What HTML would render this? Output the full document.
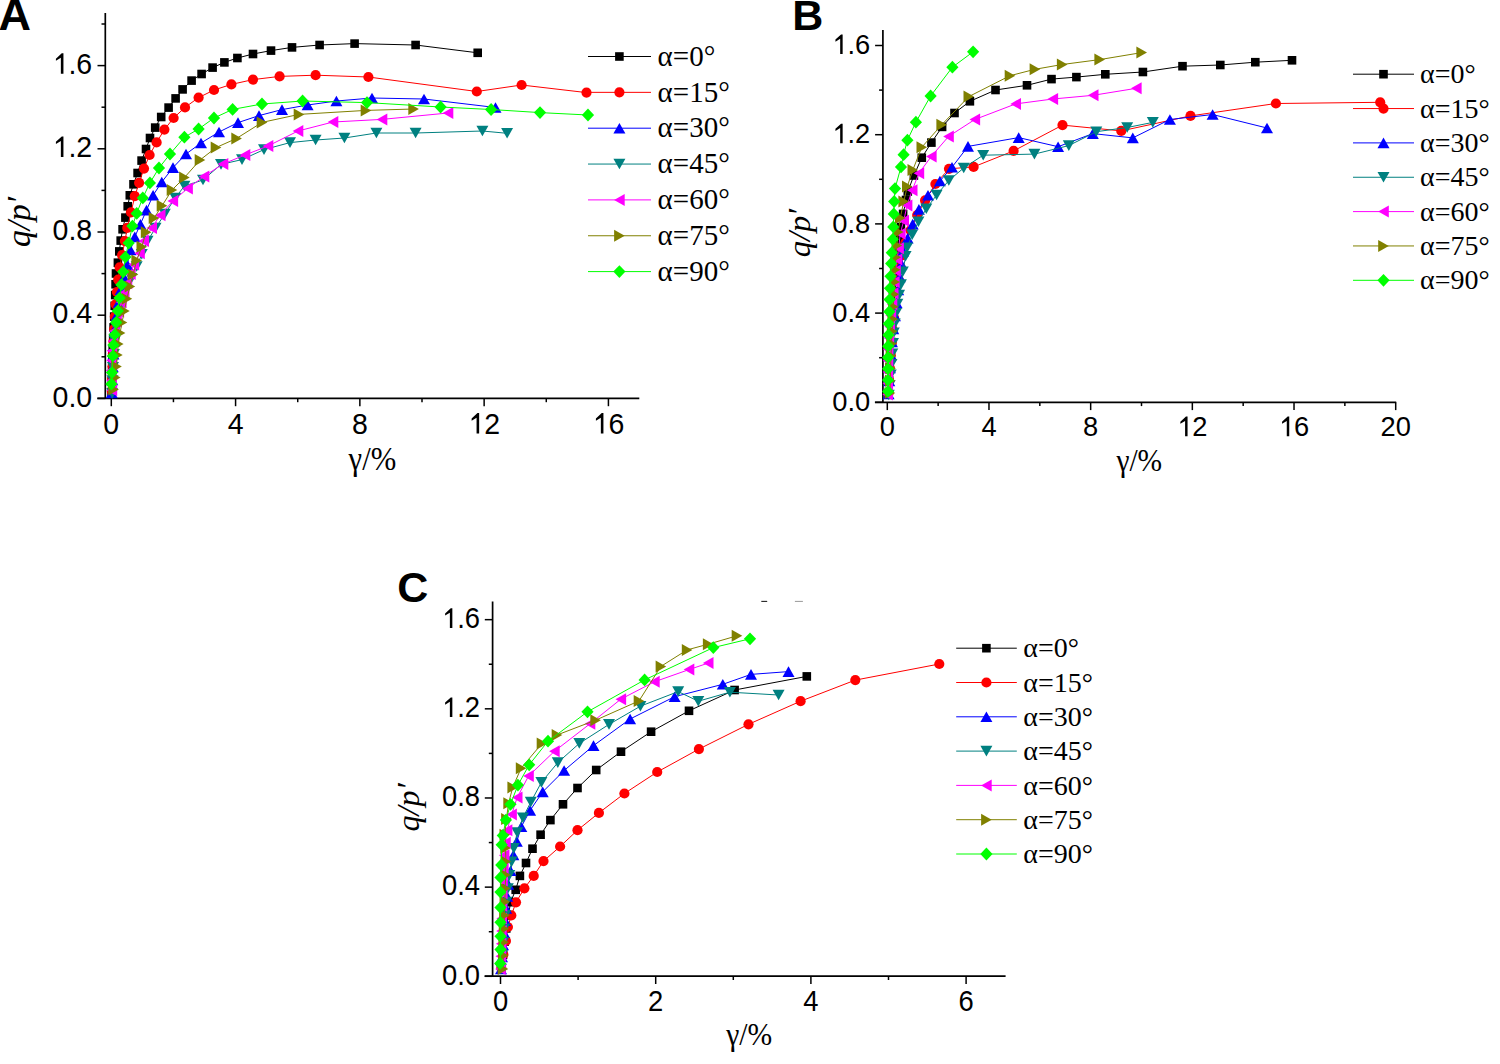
<!DOCTYPE html>
<html><head><meta charset="utf-8"><style>
html,body{margin:0;padding:0;background:#fff;width:1500px;height:1064px;overflow:hidden}
svg{display:block}
.t{font-family:"Liberation Sans",sans-serif;fill:#000}
.s{font-family:"Liberation Serif",serif;fill:#000}
.q{font-family:"Liberation Serif",serif;font-style:italic;fill:#000}
.L{font-family:"Liberation Sans",sans-serif;font-weight:bold;font-size:43px;fill:#000}
</style></head><body>
<svg width="1500" height="1064" viewBox="0 0 1500 1064">
<rect width="1500" height="1064" fill="#fff"/>
<line x1="105.3" y1="13" x2="105.3" y2="398.4" stroke="#000" stroke-width="1.7"/>
<line x1="97.3" y1="398.4" x2="639.3" y2="398.4" stroke="#000" stroke-width="1.7"/>
<line x1="111.3" y1="398.4" x2="111.3" y2="406.2" stroke="#000" stroke-width="1.5"/>
<line x1="173.44" y1="398.4" x2="173.44" y2="402.2" stroke="#000" stroke-width="1.5"/>
<line x1="235.58" y1="398.4" x2="235.58" y2="406.2" stroke="#000" stroke-width="1.5"/>
<line x1="297.72" y1="398.4" x2="297.72" y2="402.2" stroke="#000" stroke-width="1.5"/>
<line x1="359.86" y1="398.4" x2="359.86" y2="406.2" stroke="#000" stroke-width="1.5"/>
<line x1="422" y1="398.4" x2="422" y2="402.2" stroke="#000" stroke-width="1.5"/>
<line x1="484.14" y1="398.4" x2="484.14" y2="406.2" stroke="#000" stroke-width="1.5"/>
<line x1="546.28" y1="398.4" x2="546.28" y2="402.2" stroke="#000" stroke-width="1.5"/>
<line x1="608.42" y1="398.4" x2="608.42" y2="406.2" stroke="#000" stroke-width="1.5"/>
<line x1="97.5" y1="398.4" x2="105.3" y2="398.4" stroke="#000" stroke-width="1.5"/>
<line x1="101.5" y1="356.8" x2="105.3" y2="356.8" stroke="#000" stroke-width="1.5"/>
<line x1="97.5" y1="315.2" x2="105.3" y2="315.2" stroke="#000" stroke-width="1.5"/>
<line x1="101.5" y1="273.6" x2="105.3" y2="273.6" stroke="#000" stroke-width="1.5"/>
<line x1="97.5" y1="232" x2="105.3" y2="232" stroke="#000" stroke-width="1.5"/>
<line x1="101.5" y1="190.4" x2="105.3" y2="190.4" stroke="#000" stroke-width="1.5"/>
<line x1="97.5" y1="148.8" x2="105.3" y2="148.8" stroke="#000" stroke-width="1.5"/>
<line x1="101.5" y1="107.2" x2="105.3" y2="107.2" stroke="#000" stroke-width="1.5"/>
<line x1="97.5" y1="65.6" x2="105.3" y2="65.6" stroke="#000" stroke-width="1.5"/>
<line x1="101.5" y1="24" x2="105.3" y2="24" stroke="#000" stroke-width="1.5"/>
<g transform="translate(103.37,433.6) scale(1,1.045)"><text x="0" y="0" class="t" font-size="28.5">0</text></g>
<g transform="translate(227.65,433.6) scale(1,1.045)"><text x="0" y="0" class="t" font-size="28.5">4</text></g>
<g transform="translate(351.93,433.6) scale(1,1.045)"><text x="0" y="0" class="t" font-size="28.5">8</text></g>
<g transform="translate(468.29,433.6) scale(1,1.045)"><path d="M595 0L595 1095L240 890L240 1040L660 1409L780 1409L780 0Z" transform="translate(0,0) scale(0.01392,-0.01392)"/><text x="15.85" y="0" class="t" font-size="28.5">2</text></g>
<g transform="translate(592.57,433.6) scale(1,1.045)"><path d="M595 0L595 1095L240 890L240 1040L660 1409L780 1409L780 0Z" transform="translate(0,0) scale(0.01392,-0.01392)"/><text x="15.85" y="0" class="t" font-size="28.5">6</text></g>
<g transform="translate(52.58,406.6) scale(1,1.045)"><text x="0" y="0" class="t" font-size="28.5">0</text><text x="15.85" y="0" class="t" font-size="28.5">.</text><text x="23.77" y="0" class="t" font-size="28.5">0</text></g>
<g transform="translate(52.58,323.4) scale(1,1.045)"><text x="0" y="0" class="t" font-size="28.5">0</text><text x="15.85" y="0" class="t" font-size="28.5">.</text><text x="23.77" y="0" class="t" font-size="28.5">4</text></g>
<g transform="translate(52.58,240.2) scale(1,1.045)"><text x="0" y="0" class="t" font-size="28.5">0</text><text x="15.85" y="0" class="t" font-size="28.5">.</text><text x="23.77" y="0" class="t" font-size="28.5">8</text></g>
<g transform="translate(52.58,157) scale(1,1.045)"><path d="M595 0L595 1095L240 890L240 1040L660 1409L780 1409L780 0Z" transform="translate(0,0) scale(0.01392,-0.01392)"/><text x="15.85" y="0" class="t" font-size="28.5">.</text><text x="23.77" y="0" class="t" font-size="28.5">2</text></g>
<g transform="translate(52.58,73.8) scale(1,1.045)"><path d="M595 0L595 1095L240 890L240 1040L660 1409L780 1409L780 0Z" transform="translate(0,0) scale(0.01392,-0.01392)"/><text x="15.85" y="0" class="t" font-size="28.5">.</text><text x="23.77" y="0" class="t" font-size="28.5">6</text></g>
<polyline points="111.6,392 111.84,381.22 112.07,370.44 112.31,359.67 112.74,348.89 113.18,338.12 113.63,327.35 114.17,316.58 114.71,305.82 115.19,295.05 115.59,284.27 116,273.5 117.9,262.7 119.3,251.4 120.7,240.6 122.6,229.3 125.4,217.6 127.7,206.3 129.8,195.3 133.5,184.3 137.6,173 141.6,160.6 146,149 150,138 155.2,127.6 161.2,117 168.6,107.6 175.6,98.4 182.6,89.4 191.6,80.6 201.6,74 212.6,67.6 224.4,62.4 237.4,58 253,54 271,50.6 292,47.4 319.6,45 354.6,43.6 415.6,45 477.7,52.8" fill="none" stroke="#000000" stroke-width="1"/>
<rect x="107.3" y="387.7" width="8.6" height="8.6" fill="#000000"/>
<rect x="107.54" y="376.92" width="8.6" height="8.6" fill="#000000"/>
<rect x="107.77" y="366.14" width="8.6" height="8.6" fill="#000000"/>
<rect x="108.01" y="355.37" width="8.6" height="8.6" fill="#000000"/>
<rect x="108.44" y="344.59" width="8.6" height="8.6" fill="#000000"/>
<rect x="108.88" y="333.82" width="8.6" height="8.6" fill="#000000"/>
<rect x="109.33" y="323.05" width="8.6" height="8.6" fill="#000000"/>
<rect x="109.87" y="312.28" width="8.6" height="8.6" fill="#000000"/>
<rect x="110.41" y="301.52" width="8.6" height="8.6" fill="#000000"/>
<rect x="110.89" y="290.75" width="8.6" height="8.6" fill="#000000"/>
<rect x="111.29" y="279.97" width="8.6" height="8.6" fill="#000000"/>
<rect x="111.7" y="269.2" width="8.6" height="8.6" fill="#000000"/>
<rect x="113.6" y="258.4" width="8.6" height="8.6" fill="#000000"/>
<rect x="115" y="247.1" width="8.6" height="8.6" fill="#000000"/>
<rect x="116.4" y="236.3" width="8.6" height="8.6" fill="#000000"/>
<rect x="118.3" y="225" width="8.6" height="8.6" fill="#000000"/>
<rect x="121.1" y="213.3" width="8.6" height="8.6" fill="#000000"/>
<rect x="123.4" y="202" width="8.6" height="8.6" fill="#000000"/>
<rect x="125.5" y="191" width="8.6" height="8.6" fill="#000000"/>
<rect x="129.2" y="180" width="8.6" height="8.6" fill="#000000"/>
<rect x="133.3" y="168.7" width="8.6" height="8.6" fill="#000000"/>
<rect x="137.3" y="156.3" width="8.6" height="8.6" fill="#000000"/>
<rect x="141.7" y="144.7" width="8.6" height="8.6" fill="#000000"/>
<rect x="145.7" y="133.7" width="8.6" height="8.6" fill="#000000"/>
<rect x="150.9" y="123.3" width="8.6" height="8.6" fill="#000000"/>
<rect x="156.9" y="112.7" width="8.6" height="8.6" fill="#000000"/>
<rect x="164.3" y="103.3" width="8.6" height="8.6" fill="#000000"/>
<rect x="171.3" y="94.1" width="8.6" height="8.6" fill="#000000"/>
<rect x="178.3" y="85.1" width="8.6" height="8.6" fill="#000000"/>
<rect x="187.3" y="76.3" width="8.6" height="8.6" fill="#000000"/>
<rect x="197.3" y="69.7" width="8.6" height="8.6" fill="#000000"/>
<rect x="208.3" y="63.3" width="8.6" height="8.6" fill="#000000"/>
<rect x="220.1" y="58.1" width="8.6" height="8.6" fill="#000000"/>
<rect x="233.1" y="53.7" width="8.6" height="8.6" fill="#000000"/>
<rect x="248.7" y="49.7" width="8.6" height="8.6" fill="#000000"/>
<rect x="266.7" y="46.3" width="8.6" height="8.6" fill="#000000"/>
<rect x="287.7" y="43.1" width="8.6" height="8.6" fill="#000000"/>
<rect x="315.3" y="40.7" width="8.6" height="8.6" fill="#000000"/>
<rect x="350.3" y="39.3" width="8.6" height="8.6" fill="#000000"/>
<rect x="411.3" y="40.7" width="8.6" height="8.6" fill="#000000"/>
<rect x="473.4" y="48.5" width="8.6" height="8.6" fill="#000000"/>
<polyline points="111.8,391 112.16,378.61 112.53,366.22 112.89,353.83 113.48,341.44 114.16,329.07 114.85,316.69 115.57,304.31 116.91,291.99 118.24,279.66 119.63,267.35 122.1,255.2 124.9,241.1 127.3,227.9 131,212.4 134.8,196.2 139.1,182.8 144,168.6 149.6,155 156.6,142.4 164.4,129.6 173.6,118 185,107.4 198.6,97.6 214,90 231.4,84.4 253,79.6 279.6,76.4 315.6,75.2 368.4,77 476.8,91.5 521.6,85 586.5,92.6" fill="none" stroke="#FF0000" stroke-width="1"/>
<circle cx="111.8" cy="391" r="5.1" fill="#FF0000"/>
<circle cx="112.16" cy="378.61" r="5.1" fill="#FF0000"/>
<circle cx="112.53" cy="366.22" r="5.1" fill="#FF0000"/>
<circle cx="112.89" cy="353.83" r="5.1" fill="#FF0000"/>
<circle cx="113.48" cy="341.44" r="5.1" fill="#FF0000"/>
<circle cx="114.16" cy="329.07" r="5.1" fill="#FF0000"/>
<circle cx="114.85" cy="316.69" r="5.1" fill="#FF0000"/>
<circle cx="115.57" cy="304.31" r="5.1" fill="#FF0000"/>
<circle cx="116.91" cy="291.99" r="5.1" fill="#FF0000"/>
<circle cx="118.24" cy="279.66" r="5.1" fill="#FF0000"/>
<circle cx="119.63" cy="267.35" r="5.1" fill="#FF0000"/>
<circle cx="122.1" cy="255.2" r="5.1" fill="#FF0000"/>
<circle cx="124.9" cy="241.1" r="5.1" fill="#FF0000"/>
<circle cx="127.3" cy="227.9" r="5.1" fill="#FF0000"/>
<circle cx="131" cy="212.4" r="5.1" fill="#FF0000"/>
<circle cx="134.8" cy="196.2" r="5.1" fill="#FF0000"/>
<circle cx="139.1" cy="182.8" r="5.1" fill="#FF0000"/>
<circle cx="144" cy="168.6" r="5.1" fill="#FF0000"/>
<circle cx="149.6" cy="155" r="5.1" fill="#FF0000"/>
<circle cx="156.6" cy="142.4" r="5.1" fill="#FF0000"/>
<circle cx="164.4" cy="129.6" r="5.1" fill="#FF0000"/>
<circle cx="173.6" cy="118" r="5.1" fill="#FF0000"/>
<circle cx="185" cy="107.4" r="5.1" fill="#FF0000"/>
<circle cx="198.6" cy="97.6" r="5.1" fill="#FF0000"/>
<circle cx="214" cy="90" r="5.1" fill="#FF0000"/>
<circle cx="231.4" cy="84.4" r="5.1" fill="#FF0000"/>
<circle cx="253" cy="79.6" r="5.1" fill="#FF0000"/>
<circle cx="279.6" cy="76.4" r="5.1" fill="#FF0000"/>
<circle cx="315.6" cy="75.2" r="5.1" fill="#FF0000"/>
<circle cx="368.4" cy="77" r="5.1" fill="#FF0000"/>
<circle cx="476.8" cy="91.5" r="5.1" fill="#FF0000"/>
<circle cx="521.6" cy="85" r="5.1" fill="#FF0000"/>
<circle cx="586.5" cy="92.6" r="5.1" fill="#FF0000"/>
<polyline points="111.8,393 112.27,380.03 112.74,367.07 113.44,354.11 114.41,341.17 115.38,328.23 116.73,315.34 118.73,302.52 120.73,289.7 123.93,277.13 127.3,264.6 130.5,250 134.8,236.9 140.4,224.2 146.5,210.1 153.1,195.3 161.8,182 173,167.6 186,154 201,143 219,132 238,122.6 259,115.6 282,109.6 307.6,105 336.4,101 372,98 424,99 495.5,107.5" fill="none" stroke="#0000FF" stroke-width="1"/>
<polygon points="111.8,387.7 117.8,398.3 105.8,398.3" fill="#0000FF"/>
<polygon points="112.27,374.73 118.27,385.33 106.27,385.33" fill="#0000FF"/>
<polygon points="112.74,361.77 118.74,372.37 106.74,372.37" fill="#0000FF"/>
<polygon points="113.44,348.81 119.44,359.41 107.44,359.41" fill="#0000FF"/>
<polygon points="114.41,335.87 120.41,346.47 108.41,346.47" fill="#0000FF"/>
<polygon points="115.38,322.93 121.38,333.53 109.38,333.53" fill="#0000FF"/>
<polygon points="116.73,310.04 122.73,320.64 110.73,320.64" fill="#0000FF"/>
<polygon points="118.73,297.22 124.73,307.82 112.73,307.82" fill="#0000FF"/>
<polygon points="120.73,284.4 126.73,295 114.73,295" fill="#0000FF"/>
<polygon points="123.93,271.83 129.93,282.43 117.93,282.43" fill="#0000FF"/>
<polygon points="127.3,259.3 133.3,269.9 121.3,269.9" fill="#0000FF"/>
<polygon points="130.5,244.7 136.5,255.3 124.5,255.3" fill="#0000FF"/>
<polygon points="134.8,231.6 140.8,242.2 128.8,242.2" fill="#0000FF"/>
<polygon points="140.4,218.9 146.4,229.5 134.4,229.5" fill="#0000FF"/>
<polygon points="146.5,204.8 152.5,215.4 140.5,215.4" fill="#0000FF"/>
<polygon points="153.1,190 159.1,200.6 147.1,200.6" fill="#0000FF"/>
<polygon points="161.8,176.7 167.8,187.3 155.8,187.3" fill="#0000FF"/>
<polygon points="173,162.3 179,172.9 167,172.9" fill="#0000FF"/>
<polygon points="186,148.7 192,159.3 180,159.3" fill="#0000FF"/>
<polygon points="201,137.7 207,148.3 195,148.3" fill="#0000FF"/>
<polygon points="219,126.7 225,137.3 213,137.3" fill="#0000FF"/>
<polygon points="238,117.3 244,127.9 232,127.9" fill="#0000FF"/>
<polygon points="259,110.3 265,120.9 253,120.9" fill="#0000FF"/>
<polygon points="282,104.3 288,114.9 276,114.9" fill="#0000FF"/>
<polygon points="307.6,99.7 313.6,110.3 301.6,110.3" fill="#0000FF"/>
<polygon points="336.4,95.7 342.4,106.3 330.4,106.3" fill="#0000FF"/>
<polygon points="372,92.7 378,103.3 366,103.3" fill="#0000FF"/>
<polygon points="424,93.7 430,104.3 418,104.3" fill="#0000FF"/>
<polygon points="495.5,102.2 501.5,112.8 489.5,112.8" fill="#0000FF"/>
<polyline points="112.2,393.5 112.53,380.44 112.97,367.38 113.84,354.34 114.71,341.3 116.75,328.4 118.91,315.51 122.56,302.97 126.28,290.44 131.33,278.41 136.7,266.5 141.8,254.2 147.5,241.1 155.5,228 164.8,214 175.2,198 184.4,186 203,180 221,164.4 242,159.6 264,149.6 290,142.6 315.6,140 344.4,138 376.4,133 415.6,133 482.4,131 507.1,133.3" fill="none" stroke="#008080" stroke-width="1"/>
<polygon points="112.2,398.8 118.2,388.2 106.2,388.2" fill="#008080"/>
<polygon points="112.53,385.74 118.53,375.14 106.53,375.14" fill="#008080"/>
<polygon points="112.97,372.68 118.97,362.08 106.97,362.08" fill="#008080"/>
<polygon points="113.84,359.64 119.84,349.04 107.84,349.04" fill="#008080"/>
<polygon points="114.71,346.6 120.71,336 108.71,336" fill="#008080"/>
<polygon points="116.75,333.7 122.75,323.1 110.75,323.1" fill="#008080"/>
<polygon points="118.91,320.81 124.91,310.21 112.91,310.21" fill="#008080"/>
<polygon points="122.56,308.27 128.56,297.67 116.56,297.67" fill="#008080"/>
<polygon points="126.28,295.74 132.28,285.14 120.28,285.14" fill="#008080"/>
<polygon points="131.33,283.71 137.33,273.11 125.33,273.11" fill="#008080"/>
<polygon points="136.7,271.8 142.7,261.2 130.7,261.2" fill="#008080"/>
<polygon points="141.8,259.5 147.8,248.9 135.8,248.9" fill="#008080"/>
<polygon points="147.5,246.4 153.5,235.8 141.5,235.8" fill="#008080"/>
<polygon points="155.5,233.3 161.5,222.7 149.5,222.7" fill="#008080"/>
<polygon points="164.8,219.3 170.8,208.7 158.8,208.7" fill="#008080"/>
<polygon points="175.2,203.3 181.2,192.7 169.2,192.7" fill="#008080"/>
<polygon points="184.4,191.3 190.4,180.7 178.4,180.7" fill="#008080"/>
<polygon points="203,185.3 209,174.7 197,174.7" fill="#008080"/>
<polygon points="221,169.7 227,159.1 215,159.1" fill="#008080"/>
<polygon points="242,164.9 248,154.3 236,154.3" fill="#008080"/>
<polygon points="264,154.9 270,144.3 258,144.3" fill="#008080"/>
<polygon points="290,147.9 296,137.3 284,137.3" fill="#008080"/>
<polygon points="315.6,145.3 321.6,134.7 309.6,134.7" fill="#008080"/>
<polygon points="344.4,143.3 350.4,132.7 338.4,132.7" fill="#008080"/>
<polygon points="376.4,138.3 382.4,127.7 370.4,127.7" fill="#008080"/>
<polygon points="415.6,138.3 421.6,127.7 409.6,127.7" fill="#008080"/>
<polygon points="482.4,136.3 488.4,125.7 476.4,125.7" fill="#008080"/>
<polygon points="507.1,138.6 513.1,128 501.1,128" fill="#008080"/>
<polyline points="111.9,390.3 111.56,380.4 111.22,370.5 111.48,360.6 111.78,350.7 113.04,340.88 114.38,331.06 116.44,321.38 118.82,311.77 121.33,302.19 124.14,292.69 126.94,283.19 130.37,273.89 133.8,264.6 139.5,253.3 143.7,241.1 151.7,227.9 160.2,215.2 172.8,201.1 187.6,188.5 204,176.4 223,164 245,155 268,146 298,131 333,122 382,119.4 448,113" fill="none" stroke="#FF00FF" stroke-width="1"/>
<polygon points="106.6,390.3 117.2,384.3 117.2,396.3" fill="#FF00FF"/>
<polygon points="106.26,380.4 116.86,374.4 116.86,386.4" fill="#FF00FF"/>
<polygon points="105.92,370.5 116.52,364.5 116.52,376.5" fill="#FF00FF"/>
<polygon points="106.18,360.6 116.78,354.6 116.78,366.6" fill="#FF00FF"/>
<polygon points="106.48,350.7 117.08,344.7 117.08,356.7" fill="#FF00FF"/>
<polygon points="107.74,340.88 118.34,334.88 118.34,346.88" fill="#FF00FF"/>
<polygon points="109.08,331.06 119.68,325.06 119.68,337.06" fill="#FF00FF"/>
<polygon points="111.14,321.38 121.74,315.38 121.74,327.38" fill="#FF00FF"/>
<polygon points="113.52,311.77 124.12,305.77 124.12,317.77" fill="#FF00FF"/>
<polygon points="116.03,302.19 126.63,296.19 126.63,308.19" fill="#FF00FF"/>
<polygon points="118.84,292.69 129.44,286.69 129.44,298.69" fill="#FF00FF"/>
<polygon points="121.64,283.19 132.24,277.19 132.24,289.19" fill="#FF00FF"/>
<polygon points="125.07,273.89 135.67,267.89 135.67,279.89" fill="#FF00FF"/>
<polygon points="128.5,264.6 139.1,258.6 139.1,270.6" fill="#FF00FF"/>
<polygon points="134.2,253.3 144.8,247.3 144.8,259.3" fill="#FF00FF"/>
<polygon points="138.4,241.1 149,235.1 149,247.1" fill="#FF00FF"/>
<polygon points="146.4,227.9 157,221.9 157,233.9" fill="#FF00FF"/>
<polygon points="154.9,215.2 165.5,209.2 165.5,221.2" fill="#FF00FF"/>
<polygon points="167.5,201.1 178.1,195.1 178.1,207.1" fill="#FF00FF"/>
<polygon points="182.3,188.5 192.9,182.5 192.9,194.5" fill="#FF00FF"/>
<polygon points="198.7,176.4 209.3,170.4 209.3,182.4" fill="#FF00FF"/>
<polygon points="217.7,164 228.3,158 228.3,170" fill="#FF00FF"/>
<polygon points="239.7,155 250.3,149 250.3,161" fill="#FF00FF"/>
<polygon points="262.7,146 273.3,140 273.3,152" fill="#FF00FF"/>
<polygon points="292.7,131 303.3,125 303.3,137" fill="#FF00FF"/>
<polygon points="327.7,122 338.3,116 338.3,128" fill="#FF00FF"/>
<polygon points="376.7,119.4 387.3,113.4 387.3,125.4" fill="#FF00FF"/>
<polygon points="442.7,113 453.3,107 453.3,119" fill="#FF00FF"/>
<polyline points="113.6,389.5 115.3,377.4 116.5,366.5 117.4,355 118.3,343.9 120.1,332.9 122,322.5 124.4,310.9 126.9,298.7 129.9,286.5 133,274.5 136.7,260.4 141.8,246.7 146.1,232.2 154,218.1 162,205.8 172,190 184.4,177.6 200,160 216,147.6 236.6,138.4 262,122.4 299,114.4 366,110.4 413.6,109" fill="none" stroke="#808000" stroke-width="1"/>
<polygon points="118.9,389.5 108.3,383.5 108.3,395.5" fill="#808000"/>
<polygon points="120.6,377.4 110,371.4 110,383.4" fill="#808000"/>
<polygon points="121.8,366.5 111.2,360.5 111.2,372.5" fill="#808000"/>
<polygon points="122.7,355 112.1,349 112.1,361" fill="#808000"/>
<polygon points="123.6,343.9 113,337.9 113,349.9" fill="#808000"/>
<polygon points="125.4,332.9 114.8,326.9 114.8,338.9" fill="#808000"/>
<polygon points="127.3,322.5 116.7,316.5 116.7,328.5" fill="#808000"/>
<polygon points="129.7,310.9 119.1,304.9 119.1,316.9" fill="#808000"/>
<polygon points="132.2,298.7 121.6,292.7 121.6,304.7" fill="#808000"/>
<polygon points="135.2,286.5 124.6,280.5 124.6,292.5" fill="#808000"/>
<polygon points="138.3,274.5 127.7,268.5 127.7,280.5" fill="#808000"/>
<polygon points="142,260.4 131.4,254.4 131.4,266.4" fill="#808000"/>
<polygon points="147.1,246.7 136.5,240.7 136.5,252.7" fill="#808000"/>
<polygon points="151.4,232.2 140.8,226.2 140.8,238.2" fill="#808000"/>
<polygon points="159.3,218.1 148.7,212.1 148.7,224.1" fill="#808000"/>
<polygon points="167.3,205.8 156.7,199.8 156.7,211.8" fill="#808000"/>
<polygon points="177.3,190 166.7,184 166.7,196" fill="#808000"/>
<polygon points="189.7,177.6 179.1,171.6 179.1,183.6" fill="#808000"/>
<polygon points="205.3,160 194.7,154 194.7,166" fill="#808000"/>
<polygon points="221.3,147.6 210.7,141.6 210.7,153.6" fill="#808000"/>
<polygon points="241.9,138.4 231.3,132.4 231.3,144.4" fill="#808000"/>
<polygon points="267.3,122.4 256.7,116.4 256.7,128.4" fill="#808000"/>
<polygon points="304.3,114.4 293.7,108.4 293.7,120.4" fill="#808000"/>
<polygon points="371.3,110.4 360.7,104.4 360.7,116.4" fill="#808000"/>
<polygon points="418.9,109 408.3,103 408.3,115" fill="#808000"/>
<polyline points="111.4,384 112,372.6 112.8,356.1 113.4,345.1 114.7,334.7 116.1,322.5 117.7,310.9 119.5,298.1 121.4,284.7 123.2,271.8 125.4,257.1 128.7,243 132.4,226.1 136.7,213.4 142.8,197.9 149.9,182.9 159,168 170,154 184.4,137.2 198.6,129 214,118 232.6,109.4 262,104 302.6,101 367,102.6 440.6,107 491.1,109.5 540,112.6 588,115" fill="none" stroke="#00FF00" stroke-width="1"/>
<polygon points="111.4,377.6 117.5,384 111.4,390.4 105.3,384" fill="#00FF00"/>
<polygon points="112,366.2 118.1,372.6 112,379 105.9,372.6" fill="#00FF00"/>
<polygon points="112.8,349.7 118.9,356.1 112.8,362.5 106.7,356.1" fill="#00FF00"/>
<polygon points="113.4,338.7 119.5,345.1 113.4,351.5 107.3,345.1" fill="#00FF00"/>
<polygon points="114.7,328.3 120.8,334.7 114.7,341.1 108.6,334.7" fill="#00FF00"/>
<polygon points="116.1,316.1 122.2,322.5 116.1,328.9 110,322.5" fill="#00FF00"/>
<polygon points="117.7,304.5 123.8,310.9 117.7,317.3 111.6,310.9" fill="#00FF00"/>
<polygon points="119.5,291.7 125.6,298.1 119.5,304.5 113.4,298.1" fill="#00FF00"/>
<polygon points="121.4,278.3 127.5,284.7 121.4,291.1 115.3,284.7" fill="#00FF00"/>
<polygon points="123.2,265.4 129.3,271.8 123.2,278.2 117.1,271.8" fill="#00FF00"/>
<polygon points="125.4,250.7 131.5,257.1 125.4,263.5 119.3,257.1" fill="#00FF00"/>
<polygon points="128.7,236.6 134.8,243 128.7,249.4 122.6,243" fill="#00FF00"/>
<polygon points="132.4,219.7 138.5,226.1 132.4,232.5 126.3,226.1" fill="#00FF00"/>
<polygon points="136.7,207 142.8,213.4 136.7,219.8 130.6,213.4" fill="#00FF00"/>
<polygon points="142.8,191.5 148.9,197.9 142.8,204.3 136.7,197.9" fill="#00FF00"/>
<polygon points="149.9,176.5 156,182.9 149.9,189.3 143.8,182.9" fill="#00FF00"/>
<polygon points="159,161.6 165.1,168 159,174.4 152.9,168" fill="#00FF00"/>
<polygon points="170,147.6 176.1,154 170,160.4 163.9,154" fill="#00FF00"/>
<polygon points="184.4,130.8 190.5,137.2 184.4,143.6 178.3,137.2" fill="#00FF00"/>
<polygon points="198.6,122.6 204.7,129 198.6,135.4 192.5,129" fill="#00FF00"/>
<polygon points="214,111.6 220.1,118 214,124.4 207.9,118" fill="#00FF00"/>
<polygon points="232.6,103 238.7,109.4 232.6,115.8 226.5,109.4" fill="#00FF00"/>
<polygon points="262,97.6 268.1,104 262,110.4 255.9,104" fill="#00FF00"/>
<polygon points="302.6,94.6 308.7,101 302.6,107.4 296.5,101" fill="#00FF00"/>
<polygon points="367,96.2 373.1,102.6 367,109 360.9,102.6" fill="#00FF00"/>
<polygon points="440.6,100.6 446.7,107 440.6,113.4 434.5,107" fill="#00FF00"/>
<polygon points="491.1,103.1 497.2,109.5 491.1,115.9 485,109.5" fill="#00FF00"/>
<polygon points="540,106.2 546.1,112.6 540,119 533.9,112.6" fill="#00FF00"/>
<polygon points="588,108.6 594.1,115 588,121.4 581.9,115" fill="#00FF00"/>
<line x1="882.9" y1="29.9" x2="882.9" y2="402.3" stroke="#000" stroke-width="1.7"/>
<line x1="874.9" y1="402.3" x2="1396.2" y2="402.3" stroke="#000" stroke-width="1.7"/>
<line x1="887.3" y1="402.3" x2="887.3" y2="410.1" stroke="#000" stroke-width="1.5"/>
<line x1="938.14" y1="402.3" x2="938.14" y2="406.1" stroke="#000" stroke-width="1.5"/>
<line x1="988.98" y1="402.3" x2="988.98" y2="410.1" stroke="#000" stroke-width="1.5"/>
<line x1="1039.82" y1="402.3" x2="1039.82" y2="406.1" stroke="#000" stroke-width="1.5"/>
<line x1="1090.66" y1="402.3" x2="1090.66" y2="410.1" stroke="#000" stroke-width="1.5"/>
<line x1="1141.5" y1="402.3" x2="1141.5" y2="406.1" stroke="#000" stroke-width="1.5"/>
<line x1="1192.34" y1="402.3" x2="1192.34" y2="410.1" stroke="#000" stroke-width="1.5"/>
<line x1="1243.18" y1="402.3" x2="1243.18" y2="406.1" stroke="#000" stroke-width="1.5"/>
<line x1="1294.02" y1="402.3" x2="1294.02" y2="410.1" stroke="#000" stroke-width="1.5"/>
<line x1="1344.86" y1="402.3" x2="1344.86" y2="406.1" stroke="#000" stroke-width="1.5"/>
<line x1="1395.7" y1="402.3" x2="1395.7" y2="410.1" stroke="#000" stroke-width="1.5"/>
<line x1="875.1" y1="402.3" x2="882.9" y2="402.3" stroke="#000" stroke-width="1.5"/>
<line x1="879.1" y1="357.7" x2="882.9" y2="357.7" stroke="#000" stroke-width="1.5"/>
<line x1="875.1" y1="313.1" x2="882.9" y2="313.1" stroke="#000" stroke-width="1.5"/>
<line x1="879.1" y1="268.5" x2="882.9" y2="268.5" stroke="#000" stroke-width="1.5"/>
<line x1="875.1" y1="223.9" x2="882.9" y2="223.9" stroke="#000" stroke-width="1.5"/>
<line x1="879.1" y1="179.3" x2="882.9" y2="179.3" stroke="#000" stroke-width="1.5"/>
<line x1="875.1" y1="134.7" x2="882.9" y2="134.7" stroke="#000" stroke-width="1.5"/>
<line x1="879.1" y1="90.1" x2="882.9" y2="90.1" stroke="#000" stroke-width="1.5"/>
<line x1="875.1" y1="45.5" x2="882.9" y2="45.5" stroke="#000" stroke-width="1.5"/>
<g transform="translate(879.71,436.2) scale(1,1.045)"><text x="0" y="0" class="t" font-size="27.3">0</text></g>
<g transform="translate(981.39,436.2) scale(1,1.045)"><text x="0" y="0" class="t" font-size="27.3">4</text></g>
<g transform="translate(1083.07,436.2) scale(1,1.045)"><text x="0" y="0" class="t" font-size="27.3">8</text></g>
<g transform="translate(1177.16,436.2) scale(1,1.045)"><path d="M595 0L595 1095L240 890L240 1040L660 1409L780 1409L780 0Z" transform="translate(0,0) scale(0.01333,-0.01333)"/><text x="15.18" y="0" class="t" font-size="27.3">2</text></g>
<g transform="translate(1278.84,436.2) scale(1,1.045)"><path d="M595 0L595 1095L240 890L240 1040L660 1409L780 1409L780 0Z" transform="translate(0,0) scale(0.01333,-0.01333)"/><text x="15.18" y="0" class="t" font-size="27.3">6</text></g>
<g transform="translate(1380.52,436.2) scale(1,1.045)"><text x="0" y="0" class="t" font-size="27.3">2</text><text x="15.18" y="0" class="t" font-size="27.3">0</text></g>
<g transform="translate(832.25,410.9) scale(1,1.045)"><text x="0" y="0" class="t" font-size="27.3">0</text><text x="15.18" y="0" class="t" font-size="27.3">.</text><text x="22.77" y="0" class="t" font-size="27.3">0</text></g>
<g transform="translate(832.25,321.7) scale(1,1.045)"><text x="0" y="0" class="t" font-size="27.3">0</text><text x="15.18" y="0" class="t" font-size="27.3">.</text><text x="22.77" y="0" class="t" font-size="27.3">4</text></g>
<g transform="translate(832.25,232.5) scale(1,1.045)"><text x="0" y="0" class="t" font-size="27.3">0</text><text x="15.18" y="0" class="t" font-size="27.3">.</text><text x="22.77" y="0" class="t" font-size="27.3">8</text></g>
<g transform="translate(832.25,143.3) scale(1,1.045)"><path d="M595 0L595 1095L240 890L240 1040L660 1409L780 1409L780 0Z" transform="translate(0,0) scale(0.01333,-0.01333)"/><text x="15.18" y="0" class="t" font-size="27.3">.</text><text x="22.77" y="0" class="t" font-size="27.3">2</text></g>
<g transform="translate(832.25,54.1) scale(1,1.045)"><path d="M595 0L595 1095L240 890L240 1040L660 1409L780 1409L780 0Z" transform="translate(0,0) scale(0.01333,-0.01333)"/><text x="15.18" y="0" class="t" font-size="27.3">.</text><text x="22.77" y="0" class="t" font-size="27.3">6</text></g>
<polyline points="888.5,393 889.08,380.24 889.66,367.47 890.35,354.72 891.2,341.97 892.06,329.22 893.01,316.48 893.97,303.74 894.93,291 895.98,278.26 897.04,265.53 898.1,252.8 899.2,239.3 900.9,226.9 903.1,213.9 906,200 907.8,191.5 913.9,175.5 921.8,157.7 931.4,142.6 942.1,126.9 954.5,113 969.9,101.3 995.5,90 1027,85.3 1051.5,79.1 1076.4,77.1 1105.3,74.3 1142.9,72 1182.5,66.2 1220.3,65 1255.3,62.2 1292,60.3" fill="none" stroke="#000000" stroke-width="1"/>
<rect x="884.2" y="388.7" width="8.6" height="8.6" fill="#000000"/>
<rect x="884.78" y="375.94" width="8.6" height="8.6" fill="#000000"/>
<rect x="885.36" y="363.17" width="8.6" height="8.6" fill="#000000"/>
<rect x="886.05" y="350.42" width="8.6" height="8.6" fill="#000000"/>
<rect x="886.9" y="337.67" width="8.6" height="8.6" fill="#000000"/>
<rect x="887.76" y="324.92" width="8.6" height="8.6" fill="#000000"/>
<rect x="888.71" y="312.18" width="8.6" height="8.6" fill="#000000"/>
<rect x="889.67" y="299.44" width="8.6" height="8.6" fill="#000000"/>
<rect x="890.63" y="286.7" width="8.6" height="8.6" fill="#000000"/>
<rect x="891.68" y="273.96" width="8.6" height="8.6" fill="#000000"/>
<rect x="892.74" y="261.23" width="8.6" height="8.6" fill="#000000"/>
<rect x="893.8" y="248.5" width="8.6" height="8.6" fill="#000000"/>
<rect x="894.9" y="235" width="8.6" height="8.6" fill="#000000"/>
<rect x="896.6" y="222.6" width="8.6" height="8.6" fill="#000000"/>
<rect x="898.8" y="209.6" width="8.6" height="8.6" fill="#000000"/>
<rect x="901.7" y="195.7" width="8.6" height="8.6" fill="#000000"/>
<rect x="903.5" y="187.2" width="8.6" height="8.6" fill="#000000"/>
<rect x="909.6" y="171.2" width="8.6" height="8.6" fill="#000000"/>
<rect x="917.5" y="153.4" width="8.6" height="8.6" fill="#000000"/>
<rect x="927.1" y="138.3" width="8.6" height="8.6" fill="#000000"/>
<rect x="937.8" y="122.6" width="8.6" height="8.6" fill="#000000"/>
<rect x="950.2" y="108.7" width="8.6" height="8.6" fill="#000000"/>
<rect x="965.6" y="97" width="8.6" height="8.6" fill="#000000"/>
<rect x="991.2" y="85.7" width="8.6" height="8.6" fill="#000000"/>
<rect x="1022.7" y="81" width="8.6" height="8.6" fill="#000000"/>
<rect x="1047.2" y="74.8" width="8.6" height="8.6" fill="#000000"/>
<rect x="1072.1" y="72.8" width="8.6" height="8.6" fill="#000000"/>
<rect x="1101" y="70" width="8.6" height="8.6" fill="#000000"/>
<rect x="1138.6" y="67.7" width="8.6" height="8.6" fill="#000000"/>
<rect x="1178.2" y="61.9" width="8.6" height="8.6" fill="#000000"/>
<rect x="1216" y="60.7" width="8.6" height="8.6" fill="#000000"/>
<rect x="1251" y="57.9" width="8.6" height="8.6" fill="#000000"/>
<rect x="1287.7" y="56" width="8.6" height="8.6" fill="#000000"/>
<polyline points="888.6,393 889.15,380.39 889.78,367.79 890.78,355.21 891.79,342.63 892.85,330.06 893.93,317.49 895.01,304.91 896.8,292.42 898.58,279.93 900.5,267.46 902.95,255.08 905.4,242.7 910.5,230.3 917.2,215 925.1,200.4 935.4,184 949,168.8 973.6,166.9 1013.6,150.9 1062.5,125.1 1121.3,130.9 1190.5,115.9 1275.9,103.5 1380.2,102.3" fill="none" stroke="#FF0000" stroke-width="1"/>
<circle cx="888.6" cy="393" r="5.1" fill="#FF0000"/>
<circle cx="889.15" cy="380.39" r="5.1" fill="#FF0000"/>
<circle cx="889.78" cy="367.79" r="5.1" fill="#FF0000"/>
<circle cx="890.78" cy="355.21" r="5.1" fill="#FF0000"/>
<circle cx="891.79" cy="342.63" r="5.1" fill="#FF0000"/>
<circle cx="892.85" cy="330.06" r="5.1" fill="#FF0000"/>
<circle cx="893.93" cy="317.49" r="5.1" fill="#FF0000"/>
<circle cx="895.01" cy="304.91" r="5.1" fill="#FF0000"/>
<circle cx="896.8" cy="292.42" r="5.1" fill="#FF0000"/>
<circle cx="898.58" cy="279.93" r="5.1" fill="#FF0000"/>
<circle cx="900.5" cy="267.46" r="5.1" fill="#FF0000"/>
<circle cx="902.95" cy="255.08" r="5.1" fill="#FF0000"/>
<circle cx="905.4" cy="242.7" r="5.1" fill="#FF0000"/>
<circle cx="910.5" cy="230.3" r="5.1" fill="#FF0000"/>
<circle cx="917.2" cy="215" r="5.1" fill="#FF0000"/>
<circle cx="925.1" cy="200.4" r="5.1" fill="#FF0000"/>
<circle cx="935.4" cy="184" r="5.1" fill="#FF0000"/>
<circle cx="949" cy="168.8" r="5.1" fill="#FF0000"/>
<circle cx="973.6" cy="166.9" r="5.1" fill="#FF0000"/>
<circle cx="1013.6" cy="150.9" r="5.1" fill="#FF0000"/>
<circle cx="1062.5" cy="125.1" r="5.1" fill="#FF0000"/>
<circle cx="1121.3" cy="130.9" r="5.1" fill="#FF0000"/>
<circle cx="1190.5" cy="115.9" r="5.1" fill="#FF0000"/>
<circle cx="1275.9" cy="103.5" r="5.1" fill="#FF0000"/>
<circle cx="1380.2" cy="102.3" r="5.1" fill="#FF0000"/>
<polyline points="888.6,394 889.25,380.95 889.96,367.91 890.97,354.88 891.97,341.86 893.29,328.87 894.95,315.91 896.62,302.95 898.2,289.98 899.76,277.01 901.42,264.06 903.1,251.1 907.6,238.2 912.7,224.1 918.9,209.4 928,195.3 939.9,181 952,167.2 968,146.4 1018.7,137.6 1058.1,146.7 1092.8,133.6 1132.8,137.9 1169.9,119.5 1212.6,114.5 1267,128" fill="none" stroke="#0000FF" stroke-width="1"/>
<polygon points="888.6,388.7 894.6,399.3 882.6,399.3" fill="#0000FF"/>
<polygon points="889.25,375.65 895.25,386.25 883.25,386.25" fill="#0000FF"/>
<polygon points="889.96,362.61 895.96,373.21 883.96,373.21" fill="#0000FF"/>
<polygon points="890.97,349.58 896.97,360.18 884.97,360.18" fill="#0000FF"/>
<polygon points="891.97,336.56 897.97,347.16 885.97,347.16" fill="#0000FF"/>
<polygon points="893.29,323.57 899.29,334.17 887.29,334.17" fill="#0000FF"/>
<polygon points="894.95,310.61 900.95,321.21 888.95,321.21" fill="#0000FF"/>
<polygon points="896.62,297.65 902.62,308.25 890.62,308.25" fill="#0000FF"/>
<polygon points="898.2,284.68 904.2,295.28 892.2,295.28" fill="#0000FF"/>
<polygon points="899.76,271.71 905.76,282.31 893.76,282.31" fill="#0000FF"/>
<polygon points="901.42,258.76 907.42,269.36 895.42,269.36" fill="#0000FF"/>
<polygon points="903.1,245.8 909.1,256.4 897.1,256.4" fill="#0000FF"/>
<polygon points="907.6,232.9 913.6,243.5 901.6,243.5" fill="#0000FF"/>
<polygon points="912.7,218.8 918.7,229.4 906.7,229.4" fill="#0000FF"/>
<polygon points="918.9,204.1 924.9,214.7 912.9,214.7" fill="#0000FF"/>
<polygon points="928,190 934,200.6 922,200.6" fill="#0000FF"/>
<polygon points="939.9,175.7 945.9,186.3 933.9,186.3" fill="#0000FF"/>
<polygon points="952,161.9 958,172.5 946,172.5" fill="#0000FF"/>
<polygon points="968,141.1 974,151.7 962,151.7" fill="#0000FF"/>
<polygon points="1018.7,132.3 1024.7,142.9 1012.7,142.9" fill="#0000FF"/>
<polygon points="1058.1,141.4 1064.1,152 1052.1,152" fill="#0000FF"/>
<polygon points="1092.8,128.3 1098.8,138.9 1086.8,138.9" fill="#0000FF"/>
<polygon points="1132.8,132.6 1138.8,143.2 1126.8,143.2" fill="#0000FF"/>
<polygon points="1169.9,114.2 1175.9,124.8 1163.9,124.8" fill="#0000FF"/>
<polygon points="1212.6,109.2 1218.6,119.8 1206.6,119.8" fill="#0000FF"/>
<polygon points="1267,122.7 1273,133.3 1261,133.3" fill="#0000FF"/>
<polyline points="888.8,395 889.6,385.5 890.8,374.8 891.5,364.3 892.3,353.8 893,343.2 893.8,332.7 894.8,323.7 896.1,313.2 897.3,304.1 899.1,295.1 900.9,284.6 902.8,271.8 905.6,256.2 907.1,247.8 912.2,234.8 918.4,221.8 926.3,208.8 936.6,195 948.8,180.5 963.7,168 983.2,155.2 1034.4,154.1 1068.8,145.6 1096.3,131.7 1127.2,127.5 1152.8,122.4" fill="none" stroke="#008080" stroke-width="1"/>
<polygon points="888.8,400.3 894.8,389.7 882.8,389.7" fill="#008080"/>
<polygon points="889.6,390.8 895.6,380.2 883.6,380.2" fill="#008080"/>
<polygon points="890.8,380.1 896.8,369.5 884.8,369.5" fill="#008080"/>
<polygon points="891.5,369.6 897.5,359 885.5,359" fill="#008080"/>
<polygon points="892.3,359.1 898.3,348.5 886.3,348.5" fill="#008080"/>
<polygon points="893,348.5 899,337.9 887,337.9" fill="#008080"/>
<polygon points="893.8,338 899.8,327.4 887.8,327.4" fill="#008080"/>
<polygon points="894.8,329 900.8,318.4 888.8,318.4" fill="#008080"/>
<polygon points="896.1,318.5 902.1,307.9 890.1,307.9" fill="#008080"/>
<polygon points="897.3,309.4 903.3,298.8 891.3,298.8" fill="#008080"/>
<polygon points="899.1,300.4 905.1,289.8 893.1,289.8" fill="#008080"/>
<polygon points="900.9,289.9 906.9,279.3 894.9,279.3" fill="#008080"/>
<polygon points="902.8,277.1 908.8,266.5 896.8,266.5" fill="#008080"/>
<polygon points="905.6,261.5 911.6,250.9 899.6,250.9" fill="#008080"/>
<polygon points="907.1,253.1 913.1,242.5 901.1,242.5" fill="#008080"/>
<polygon points="912.2,240.1 918.2,229.5 906.2,229.5" fill="#008080"/>
<polygon points="918.4,227.1 924.4,216.5 912.4,216.5" fill="#008080"/>
<polygon points="926.3,214.1 932.3,203.5 920.3,203.5" fill="#008080"/>
<polygon points="936.6,200.3 942.6,189.7 930.6,189.7" fill="#008080"/>
<polygon points="948.8,185.8 954.8,175.2 942.8,175.2" fill="#008080"/>
<polygon points="963.7,173.3 969.7,162.7 957.7,162.7" fill="#008080"/>
<polygon points="983.2,160.5 989.2,149.9 977.2,149.9" fill="#008080"/>
<polygon points="1034.4,159.4 1040.4,148.8 1028.4,148.8" fill="#008080"/>
<polygon points="1068.8,150.9 1074.8,140.3 1062.8,140.3" fill="#008080"/>
<polygon points="1096.3,137 1102.3,126.4 1090.3,126.4" fill="#008080"/>
<polygon points="1127.2,132.8 1133.2,122.2 1121.2,122.2" fill="#008080"/>
<polygon points="1152.8,127.7 1158.8,117.1 1146.8,117.1" fill="#008080"/>
<polyline points="887.7,394.5 887.78,383.21 887.85,371.92 887.93,360.63 888.05,349.34 888.81,338.07 889.63,326.81 890.83,315.59 892.03,304.36 893.19,293.13 894.31,281.89 895.43,270.66 897,259.48 898.6,248.3 900.3,233.7 903.7,220.7 907.1,205.4 912.2,190.2 918.9,173.3 931.3,156.4 948.5,136.5 974.8,119.5 1015.7,103.9 1052.8,99 1093.2,95.3 1136.3,88.3" fill="none" stroke="#FF00FF" stroke-width="1"/>
<polygon points="882.4,394.5 893,388.5 893,400.5" fill="#FF00FF"/>
<polygon points="882.48,383.21 893.08,377.21 893.08,389.21" fill="#FF00FF"/>
<polygon points="882.55,371.92 893.15,365.92 893.15,377.92" fill="#FF00FF"/>
<polygon points="882.63,360.63 893.23,354.63 893.23,366.63" fill="#FF00FF"/>
<polygon points="882.75,349.34 893.35,343.34 893.35,355.34" fill="#FF00FF"/>
<polygon points="883.51,338.07 894.11,332.07 894.11,344.07" fill="#FF00FF"/>
<polygon points="884.33,326.81 894.93,320.81 894.93,332.81" fill="#FF00FF"/>
<polygon points="885.53,315.59 896.13,309.59 896.13,321.59" fill="#FF00FF"/>
<polygon points="886.73,304.36 897.33,298.36 897.33,310.36" fill="#FF00FF"/>
<polygon points="887.89,293.13 898.49,287.13 898.49,299.13" fill="#FF00FF"/>
<polygon points="889.01,281.89 899.61,275.89 899.61,287.89" fill="#FF00FF"/>
<polygon points="890.13,270.66 900.73,264.66 900.73,276.66" fill="#FF00FF"/>
<polygon points="891.7,259.48 902.3,253.48 902.3,265.48" fill="#FF00FF"/>
<polygon points="893.3,248.3 903.9,242.3 903.9,254.3" fill="#FF00FF"/>
<polygon points="895,233.7 905.6,227.7 905.6,239.7" fill="#FF00FF"/>
<polygon points="898.4,220.7 909,214.7 909,226.7" fill="#FF00FF"/>
<polygon points="901.8,205.4 912.4,199.4 912.4,211.4" fill="#FF00FF"/>
<polygon points="906.9,190.2 917.5,184.2 917.5,196.2" fill="#FF00FF"/>
<polygon points="913.6,173.3 924.2,167.3 924.2,179.3" fill="#FF00FF"/>
<polygon points="926,156.4 936.6,150.4 936.6,162.4" fill="#FF00FF"/>
<polygon points="943.2,136.5 953.8,130.5 953.8,142.5" fill="#FF00FF"/>
<polygon points="969.5,119.5 980.1,113.5 980.1,125.5" fill="#FF00FF"/>
<polygon points="1010.4,103.9 1021,97.9 1021,109.9" fill="#FF00FF"/>
<polygon points="1047.5,99 1058.1,93 1058.1,105" fill="#FF00FF"/>
<polygon points="1087.9,95.3 1098.5,89.3 1098.5,101.3" fill="#FF00FF"/>
<polygon points="1131,88.3 1141.6,82.3 1141.6,94.3" fill="#FF00FF"/>
<polyline points="890,393 890.3,380.66 890.6,368.31 890.99,355.97 891.56,343.63 892.14,331.3 892.75,318.97 893.37,306.63 893.98,294.3 894.59,281.97 895.2,269.63 895.8,257.3 896.9,245.5 898.3,232 900.3,217.9 903.7,201.5 907.3,186.5 912.8,170 921.8,147.2 941.7,124.8 968.8,96.6 1010,75.7 1034.9,69.3 1062.2,64.5 1099.7,59.6 1141.7,52.6" fill="none" stroke="#808000" stroke-width="1"/>
<polygon points="895.3,393 884.7,387 884.7,399" fill="#808000"/>
<polygon points="895.6,380.66 885,374.66 885,386.66" fill="#808000"/>
<polygon points="895.9,368.31 885.3,362.31 885.3,374.31" fill="#808000"/>
<polygon points="896.29,355.97 885.69,349.97 885.69,361.97" fill="#808000"/>
<polygon points="896.86,343.63 886.26,337.63 886.26,349.63" fill="#808000"/>
<polygon points="897.44,331.3 886.84,325.3 886.84,337.3" fill="#808000"/>
<polygon points="898.05,318.97 887.45,312.97 887.45,324.97" fill="#808000"/>
<polygon points="898.67,306.63 888.07,300.63 888.07,312.63" fill="#808000"/>
<polygon points="899.28,294.3 888.68,288.3 888.68,300.3" fill="#808000"/>
<polygon points="899.89,281.97 889.29,275.97 889.29,287.97" fill="#808000"/>
<polygon points="900.5,269.63 889.9,263.63 889.9,275.63" fill="#808000"/>
<polygon points="901.1,257.3 890.5,251.3 890.5,263.3" fill="#808000"/>
<polygon points="902.2,245.5 891.6,239.5 891.6,251.5" fill="#808000"/>
<polygon points="903.6,232 893,226 893,238" fill="#808000"/>
<polygon points="905.6,217.9 895,211.9 895,223.9" fill="#808000"/>
<polygon points="909,201.5 898.4,195.5 898.4,207.5" fill="#808000"/>
<polygon points="912.6,186.5 902,180.5 902,192.5" fill="#808000"/>
<polygon points="918.1,170 907.5,164 907.5,176" fill="#808000"/>
<polygon points="927.1,147.2 916.5,141.2 916.5,153.2" fill="#808000"/>
<polygon points="947,124.8 936.4,118.8 936.4,130.8" fill="#808000"/>
<polygon points="974.1,96.6 963.5,90.6 963.5,102.6" fill="#808000"/>
<polygon points="1015.3,75.7 1004.7,69.7 1004.7,81.7" fill="#808000"/>
<polygon points="1040.2,69.3 1029.6,63.3 1029.6,75.3" fill="#808000"/>
<polygon points="1067.5,64.5 1056.9,58.5 1056.9,70.5" fill="#808000"/>
<polygon points="1105,59.6 1094.4,53.6 1094.4,65.6" fill="#808000"/>
<polygon points="1147,52.6 1136.4,46.6 1136.4,58.6" fill="#808000"/>
<polyline points="888.1,391.4 888.1,380.1 888.1,368.8 888.1,357.5 888.2,346.2 888.5,335 888.8,323.7 889.3,311.7 889.6,299.6 890,288.3 890.5,276.3 891.2,263.5 891.8,252.7 892.8,239.3 893.3,226.9 893.8,213.9 894.2,201.5 895,188.6 901,166.9 903.6,154.7 907.4,140.2 915.9,122.2 930.6,96 952.4,67.2 973.1,51.8" fill="none" stroke="#00FF00" stroke-width="1"/>
<polygon points="888.1,385 894.2,391.4 888.1,397.8 882,391.4" fill="#00FF00"/>
<polygon points="888.1,373.7 894.2,380.1 888.1,386.5 882,380.1" fill="#00FF00"/>
<polygon points="888.1,362.4 894.2,368.8 888.1,375.2 882,368.8" fill="#00FF00"/>
<polygon points="888.1,351.1 894.2,357.5 888.1,363.9 882,357.5" fill="#00FF00"/>
<polygon points="888.2,339.8 894.3,346.2 888.2,352.6 882.1,346.2" fill="#00FF00"/>
<polygon points="888.5,328.6 894.6,335 888.5,341.4 882.4,335" fill="#00FF00"/>
<polygon points="888.8,317.3 894.9,323.7 888.8,330.1 882.7,323.7" fill="#00FF00"/>
<polygon points="889.3,305.3 895.4,311.7 889.3,318.1 883.2,311.7" fill="#00FF00"/>
<polygon points="889.6,293.2 895.7,299.6 889.6,306 883.5,299.6" fill="#00FF00"/>
<polygon points="890,281.9 896.1,288.3 890,294.7 883.9,288.3" fill="#00FF00"/>
<polygon points="890.5,269.9 896.6,276.3 890.5,282.7 884.4,276.3" fill="#00FF00"/>
<polygon points="891.2,257.1 897.3,263.5 891.2,269.9 885.1,263.5" fill="#00FF00"/>
<polygon points="891.8,246.3 897.9,252.7 891.8,259.1 885.7,252.7" fill="#00FF00"/>
<polygon points="892.8,232.9 898.9,239.3 892.8,245.7 886.7,239.3" fill="#00FF00"/>
<polygon points="893.3,220.5 899.4,226.9 893.3,233.3 887.2,226.9" fill="#00FF00"/>
<polygon points="893.8,207.5 899.9,213.9 893.8,220.3 887.7,213.9" fill="#00FF00"/>
<polygon points="894.2,195.1 900.3,201.5 894.2,207.9 888.1,201.5" fill="#00FF00"/>
<polygon points="895,182.2 901.1,188.6 895,195 888.9,188.6" fill="#00FF00"/>
<polygon points="901,160.5 907.1,166.9 901,173.3 894.9,166.9" fill="#00FF00"/>
<polygon points="903.6,148.3 909.7,154.7 903.6,161.1 897.5,154.7" fill="#00FF00"/>
<polygon points="907.4,133.8 913.5,140.2 907.4,146.6 901.3,140.2" fill="#00FF00"/>
<polygon points="915.9,115.8 922,122.2 915.9,128.6 909.8,122.2" fill="#00FF00"/>
<polygon points="930.6,89.6 936.7,96 930.6,102.4 924.5,96" fill="#00FF00"/>
<polygon points="952.4,60.8 958.5,67.2 952.4,73.6 946.3,67.2" fill="#00FF00"/>
<polygon points="973.1,45.4 979.2,51.8 973.1,58.2 967,51.8" fill="#00FF00"/>
<line x1="492.6" y1="601.4" x2="492.6" y2="976.2" stroke="#000" stroke-width="1.7"/>
<line x1="484.6" y1="976.2" x2="1005.6" y2="976.2" stroke="#000" stroke-width="1.7"/>
<line x1="500.5" y1="976.2" x2="500.5" y2="984" stroke="#000" stroke-width="1.5"/>
<line x1="578.1" y1="976.2" x2="578.1" y2="980" stroke="#000" stroke-width="1.5"/>
<line x1="655.7" y1="976.2" x2="655.7" y2="984" stroke="#000" stroke-width="1.5"/>
<line x1="733.3" y1="976.2" x2="733.3" y2="980" stroke="#000" stroke-width="1.5"/>
<line x1="810.9" y1="976.2" x2="810.9" y2="984" stroke="#000" stroke-width="1.5"/>
<line x1="888.5" y1="976.2" x2="888.5" y2="980" stroke="#000" stroke-width="1.5"/>
<line x1="966.1" y1="976.2" x2="966.1" y2="984" stroke="#000" stroke-width="1.5"/>
<line x1="484.8" y1="976.3" x2="492.6" y2="976.3" stroke="#000" stroke-width="1.5"/>
<line x1="488.8" y1="931.72" x2="492.6" y2="931.72" stroke="#000" stroke-width="1.5"/>
<line x1="484.8" y1="887.14" x2="492.6" y2="887.14" stroke="#000" stroke-width="1.5"/>
<line x1="488.8" y1="842.56" x2="492.6" y2="842.56" stroke="#000" stroke-width="1.5"/>
<line x1="484.8" y1="797.98" x2="492.6" y2="797.98" stroke="#000" stroke-width="1.5"/>
<line x1="488.8" y1="753.4" x2="492.6" y2="753.4" stroke="#000" stroke-width="1.5"/>
<line x1="484.8" y1="708.82" x2="492.6" y2="708.82" stroke="#000" stroke-width="1.5"/>
<line x1="488.8" y1="664.24" x2="492.6" y2="664.24" stroke="#000" stroke-width="1.5"/>
<line x1="484.8" y1="619.66" x2="492.6" y2="619.66" stroke="#000" stroke-width="1.5"/>
<g transform="translate(492.88,1010.6) scale(1,1.045)"><text x="0" y="0" class="t" font-size="27.4">0</text></g>
<g transform="translate(648.08,1010.6) scale(1,1.045)"><text x="0" y="0" class="t" font-size="27.4">2</text></g>
<g transform="translate(803.28,1010.6) scale(1,1.045)"><text x="0" y="0" class="t" font-size="27.4">4</text></g>
<g transform="translate(958.48,1010.6) scale(1,1.045)"><text x="0" y="0" class="t" font-size="27.4">6</text></g>
<g transform="translate(441.91,984.6) scale(1,1.045)"><text x="0" y="0" class="t" font-size="27.4">0</text><text x="15.24" y="0" class="t" font-size="27.4">.</text><text x="22.85" y="0" class="t" font-size="27.4">0</text></g>
<g transform="translate(441.91,895.44) scale(1,1.045)"><text x="0" y="0" class="t" font-size="27.4">0</text><text x="15.24" y="0" class="t" font-size="27.4">.</text><text x="22.85" y="0" class="t" font-size="27.4">4</text></g>
<g transform="translate(441.91,806.28) scale(1,1.045)"><text x="0" y="0" class="t" font-size="27.4">0</text><text x="15.24" y="0" class="t" font-size="27.4">.</text><text x="22.85" y="0" class="t" font-size="27.4">8</text></g>
<g transform="translate(441.91,717.12) scale(1,1.045)"><path d="M595 0L595 1095L240 890L240 1040L660 1409L780 1409L780 0Z" transform="translate(0,0) scale(0.01338,-0.01338)"/><text x="15.24" y="0" class="t" font-size="27.4">.</text><text x="22.85" y="0" class="t" font-size="27.4">2</text></g>
<g transform="translate(441.91,627.96) scale(1,1.045)"><path d="M595 0L595 1095L240 890L240 1040L660 1409L780 1409L780 0Z" transform="translate(0,0) scale(0.01338,-0.01338)"/><text x="15.24" y="0" class="t" font-size="27.4">.</text><text x="22.85" y="0" class="t" font-size="27.4">6</text></g>
<polyline points="501.3,968 503.02,954.82 504.61,941.62 506.26,928.43 508.43,915.32 510.6,902.2 515.7,889.8 519.9,875.9 526,863 532.5,848.7 540.6,834.7 550.4,820.1 563,804.3 577.5,788 596.2,770 621,751.7 651.1,731.7 689,710.8 734.6,690 806.8,676.4" fill="none" stroke="#000000" stroke-width="1"/>
<rect x="497" y="963.7" width="8.6" height="8.6" fill="#000000"/>
<rect x="498.72" y="950.52" width="8.6" height="8.6" fill="#000000"/>
<rect x="500.31" y="937.32" width="8.6" height="8.6" fill="#000000"/>
<rect x="501.96" y="924.13" width="8.6" height="8.6" fill="#000000"/>
<rect x="504.13" y="911.02" width="8.6" height="8.6" fill="#000000"/>
<rect x="506.3" y="897.9" width="8.6" height="8.6" fill="#000000"/>
<rect x="511.4" y="885.5" width="8.6" height="8.6" fill="#000000"/>
<rect x="515.6" y="871.6" width="8.6" height="8.6" fill="#000000"/>
<rect x="521.7" y="858.7" width="8.6" height="8.6" fill="#000000"/>
<rect x="528.2" y="844.4" width="8.6" height="8.6" fill="#000000"/>
<rect x="536.3" y="830.4" width="8.6" height="8.6" fill="#000000"/>
<rect x="546.1" y="815.8" width="8.6" height="8.6" fill="#000000"/>
<rect x="558.7" y="800" width="8.6" height="8.6" fill="#000000"/>
<rect x="573.2" y="783.7" width="8.6" height="8.6" fill="#000000"/>
<rect x="591.9" y="765.7" width="8.6" height="8.6" fill="#000000"/>
<rect x="616.7" y="747.4" width="8.6" height="8.6" fill="#000000"/>
<rect x="646.8" y="727.4" width="8.6" height="8.6" fill="#000000"/>
<rect x="684.7" y="706.5" width="8.6" height="8.6" fill="#000000"/>
<rect x="730.3" y="685.7" width="8.6" height="8.6" fill="#000000"/>
<rect x="802.5" y="672.1" width="8.6" height="8.6" fill="#000000"/>
<polyline points="501.3,968 503.3,954.4 505.9,940.9 507.9,927 511.3,915.4 516,902.3 524.4,888.3 533.7,875.9 543.5,861.1 560.1,846.5 577.5,830.2 598.9,812.9 624.4,793.5 657.2,772 698.9,749.1 748.5,724.3 800.6,701.2 855.3,680.1 939.3,664" fill="none" stroke="#FF0000" stroke-width="1"/>
<circle cx="501.3" cy="968" r="5.1" fill="#FF0000"/>
<circle cx="503.3" cy="954.4" r="5.1" fill="#FF0000"/>
<circle cx="505.9" cy="940.9" r="5.1" fill="#FF0000"/>
<circle cx="507.9" cy="927" r="5.1" fill="#FF0000"/>
<circle cx="511.3" cy="915.4" r="5.1" fill="#FF0000"/>
<circle cx="516" cy="902.3" r="5.1" fill="#FF0000"/>
<circle cx="524.4" cy="888.3" r="5.1" fill="#FF0000"/>
<circle cx="533.7" cy="875.9" r="5.1" fill="#FF0000"/>
<circle cx="543.5" cy="861.1" r="5.1" fill="#FF0000"/>
<circle cx="560.1" cy="846.5" r="5.1" fill="#FF0000"/>
<circle cx="577.5" cy="830.2" r="5.1" fill="#FF0000"/>
<circle cx="598.9" cy="812.9" r="5.1" fill="#FF0000"/>
<circle cx="624.4" cy="793.5" r="5.1" fill="#FF0000"/>
<circle cx="657.2" cy="772" r="5.1" fill="#FF0000"/>
<circle cx="698.9" cy="749.1" r="5.1" fill="#FF0000"/>
<circle cx="748.5" cy="724.3" r="5.1" fill="#FF0000"/>
<circle cx="800.6" cy="701.2" r="5.1" fill="#FF0000"/>
<circle cx="855.3" cy="680.1" r="5.1" fill="#FF0000"/>
<circle cx="939.3" cy="664" r="5.1" fill="#FF0000"/>
<polyline points="501,969 502.01,956.91 503.01,944.83 504.05,932.74 505.09,920.65 506.12,908.57 507.16,896.48 508.2,884.4 510.5,870.8 513.4,855 516.8,841.5 521.3,826.8 530.1,810.4 542.7,791.9 564.1,770.5 593.5,745.6 630.1,719 674.6,696.7 722.8,684.3 751,674.4 788.5,671.6" fill="none" stroke="#0000FF" stroke-width="1"/>
<polygon points="501,963.7 507,974.3 495,974.3" fill="#0000FF"/>
<polygon points="502.01,951.61 508.01,962.21 496.01,962.21" fill="#0000FF"/>
<polygon points="503.01,939.53 509.01,950.13 497.01,950.13" fill="#0000FF"/>
<polygon points="504.05,927.44 510.05,938.04 498.05,938.04" fill="#0000FF"/>
<polygon points="505.09,915.35 511.09,925.95 499.09,925.95" fill="#0000FF"/>
<polygon points="506.12,903.27 512.12,913.87 500.12,913.87" fill="#0000FF"/>
<polygon points="507.16,891.18 513.16,901.78 501.16,901.78" fill="#0000FF"/>
<polygon points="508.2,879.1 514.2,889.7 502.2,889.7" fill="#0000FF"/>
<polygon points="510.5,865.5 516.5,876.1 504.5,876.1" fill="#0000FF"/>
<polygon points="513.4,849.7 519.4,860.3 507.4,860.3" fill="#0000FF"/>
<polygon points="516.8,836.2 522.8,846.8 510.8,846.8" fill="#0000FF"/>
<polygon points="521.3,821.5 527.3,832.1 515.3,832.1" fill="#0000FF"/>
<polygon points="530.1,805.1 536.1,815.7 524.1,815.7" fill="#0000FF"/>
<polygon points="542.7,786.6 548.7,797.2 536.7,797.2" fill="#0000FF"/>
<polygon points="564.1,765.2 570.1,775.8 558.1,775.8" fill="#0000FF"/>
<polygon points="593.5,740.3 599.5,750.9 587.5,750.9" fill="#0000FF"/>
<polygon points="630.1,713.7 636.1,724.3 624.1,724.3" fill="#0000FF"/>
<polygon points="674.6,691.4 680.6,702 668.6,702" fill="#0000FF"/>
<polygon points="722.8,679 728.8,689.6 716.8,689.6" fill="#0000FF"/>
<polygon points="751,669.1 757,679.7 745,679.7" fill="#0000FF"/>
<polygon points="788.5,666.3 794.5,676.9 782.5,676.9" fill="#0000FF"/>
<polyline points="501,969 502.12,955.61 503.21,942.21 504.21,928.81 505.22,915.41 506.33,902.02 507.82,888.66 509.3,875.3 511.6,861.8 513.8,848.3 517.2,832.5 522.9,817.8 530.8,802 541.4,782.4 557.8,762.6 579.3,743.4 609,724.4 640.4,706.2 678.2,691.6 698.3,701.2 729.9,692.2 778.6,695" fill="none" stroke="#008080" stroke-width="1"/>
<polygon points="501,974.3 507,963.7 495,963.7" fill="#008080"/>
<polygon points="502.12,960.91 508.12,950.31 496.12,950.31" fill="#008080"/>
<polygon points="503.21,947.51 509.21,936.91 497.21,936.91" fill="#008080"/>
<polygon points="504.21,934.11 510.21,923.51 498.21,923.51" fill="#008080"/>
<polygon points="505.22,920.71 511.22,910.11 499.22,910.11" fill="#008080"/>
<polygon points="506.33,907.32 512.33,896.72 500.33,896.72" fill="#008080"/>
<polygon points="507.82,893.96 513.82,883.36 501.82,883.36" fill="#008080"/>
<polygon points="509.3,880.6 515.3,870 503.3,870" fill="#008080"/>
<polygon points="511.6,867.1 517.6,856.5 505.6,856.5" fill="#008080"/>
<polygon points="513.8,853.6 519.8,843 507.8,843" fill="#008080"/>
<polygon points="517.2,837.8 523.2,827.2 511.2,827.2" fill="#008080"/>
<polygon points="522.9,823.1 528.9,812.5 516.9,812.5" fill="#008080"/>
<polygon points="530.8,807.3 536.8,796.7 524.8,796.7" fill="#008080"/>
<polygon points="541.4,787.7 547.4,777.1 535.4,777.1" fill="#008080"/>
<polygon points="557.8,767.9 563.8,757.3 551.8,757.3" fill="#008080"/>
<polygon points="579.3,748.7 585.3,738.1 573.3,738.1" fill="#008080"/>
<polygon points="609,729.7 615,719.1 603,719.1" fill="#008080"/>
<polygon points="640.4,711.5 646.4,700.9 634.4,700.9" fill="#008080"/>
<polygon points="678.2,696.9 684.2,686.3 672.2,686.3" fill="#008080"/>
<polygon points="698.3,706.5 704.3,695.9 692.3,695.9" fill="#008080"/>
<polygon points="729.9,697.5 735.9,686.9 723.9,686.9" fill="#008080"/>
<polygon points="778.6,700.3 784.6,689.7 772.6,689.7" fill="#008080"/>
<polyline points="500.5,969 500.82,956.36 501.15,943.72 501.47,931.09 501.73,918.45 501.98,905.81 502.24,893.17 502.49,880.53 503.31,867.92 504.15,855.3 505.45,842.73 507.1,830.2 511.6,814.4 517.2,797.5 528.5,776.1 554.4,751.3 590,723.8 620.8,699.2 654.4,681.8 689,669.6 708.2,663.1" fill="none" stroke="#FF00FF" stroke-width="1"/>
<polygon points="495.2,969 505.8,963 505.8,975" fill="#FF00FF"/>
<polygon points="495.52,956.36 506.12,950.36 506.12,962.36" fill="#FF00FF"/>
<polygon points="495.85,943.72 506.45,937.72 506.45,949.72" fill="#FF00FF"/>
<polygon points="496.17,931.09 506.77,925.09 506.77,937.09" fill="#FF00FF"/>
<polygon points="496.43,918.45 507.03,912.45 507.03,924.45" fill="#FF00FF"/>
<polygon points="496.68,905.81 507.28,899.81 507.28,911.81" fill="#FF00FF"/>
<polygon points="496.94,893.17 507.54,887.17 507.54,899.17" fill="#FF00FF"/>
<polygon points="497.19,880.53 507.79,874.53 507.79,886.53" fill="#FF00FF"/>
<polygon points="498.01,867.92 508.61,861.92 508.61,873.92" fill="#FF00FF"/>
<polygon points="498.85,855.3 509.45,849.3 509.45,861.3" fill="#FF00FF"/>
<polygon points="500.15,842.73 510.75,836.73 510.75,848.73" fill="#FF00FF"/>
<polygon points="501.8,830.2 512.4,824.2 512.4,836.2" fill="#FF00FF"/>
<polygon points="506.3,814.4 516.9,808.4 516.9,820.4" fill="#FF00FF"/>
<polygon points="511.9,797.5 522.5,791.5 522.5,803.5" fill="#FF00FF"/>
<polygon points="523.2,776.1 533.8,770.1 533.8,782.1" fill="#FF00FF"/>
<polygon points="549.1,751.3 559.7,745.3 559.7,757.3" fill="#FF00FF"/>
<polygon points="584.7,723.8 595.3,717.8 595.3,729.8" fill="#FF00FF"/>
<polygon points="615.5,699.2 626.1,693.2 626.1,705.2" fill="#FF00FF"/>
<polygon points="649.1,681.8 659.7,675.8 659.7,687.8" fill="#FF00FF"/>
<polygon points="683.7,669.6 694.3,663.6 694.3,675.6" fill="#FF00FF"/>
<polygon points="702.9,663.1 713.5,657.1 713.5,669.1" fill="#FF00FF"/>
<polyline points="503,969 503.34,955.57 503.69,942.13 504.04,928.7 504.44,915.27 504.84,901.84 505.25,888.41 505.6,874.97 505.87,861.54 505.59,848.11 504.8,834.7 506.4,819 508.6,803.2 512.7,787.4 521.1,768.2 542,743.4 557,735 595.6,720.2 639,700.9 660.9,666.4 687.1,649.9 708.2,644.2 737,635.8" fill="none" stroke="#808000" stroke-width="1"/>
<polygon points="508.3,969 497.7,963 497.7,975" fill="#808000"/>
<polygon points="508.64,955.57 498.04,949.57 498.04,961.57" fill="#808000"/>
<polygon points="508.99,942.13 498.39,936.13 498.39,948.13" fill="#808000"/>
<polygon points="509.34,928.7 498.74,922.7 498.74,934.7" fill="#808000"/>
<polygon points="509.74,915.27 499.14,909.27 499.14,921.27" fill="#808000"/>
<polygon points="510.14,901.84 499.54,895.84 499.54,907.84" fill="#808000"/>
<polygon points="510.55,888.41 499.95,882.41 499.95,894.41" fill="#808000"/>
<polygon points="510.9,874.97 500.3,868.97 500.3,880.97" fill="#808000"/>
<polygon points="511.17,861.54 500.57,855.54 500.57,867.54" fill="#808000"/>
<polygon points="510.89,848.11 500.29,842.11 500.29,854.11" fill="#808000"/>
<polygon points="510.1,834.7 499.5,828.7 499.5,840.7" fill="#808000"/>
<polygon points="511.7,819 501.1,813 501.1,825" fill="#808000"/>
<polygon points="513.9,803.2 503.3,797.2 503.3,809.2" fill="#808000"/>
<polygon points="518,787.4 507.4,781.4 507.4,793.4" fill="#808000"/>
<polygon points="526.4,768.2 515.8,762.2 515.8,774.2" fill="#808000"/>
<polygon points="547.3,743.4 536.7,737.4 536.7,749.4" fill="#808000"/>
<polygon points="562.3,735 551.7,729 551.7,741" fill="#808000"/>
<polygon points="600.9,720.2 590.3,714.2 590.3,726.2" fill="#808000"/>
<polygon points="644.3,700.9 633.7,694.9 633.7,706.9" fill="#808000"/>
<polygon points="666.2,666.4 655.6,660.4 655.6,672.4" fill="#808000"/>
<polygon points="692.4,649.9 681.8,643.9 681.8,655.9" fill="#808000"/>
<polygon points="713.5,644.2 702.9,638.2 702.9,650.2" fill="#808000"/>
<polygon points="742.3,635.8 731.7,629.8 731.7,641.8" fill="#808000"/>
<polyline points="500.2,963.4 500.5,949.5 500.5,936.3 500.5,922.3 500.5,907.6 500.5,892.1 500.5,877.4 501.3,865 501.7,844.8 502.8,835.5 505.9,820.1 510.5,804.3 517.9,785.1 529.2,764.8 548,741.2 587.5,711.8 644.6,679.9 713.3,647.6 750,638.8" fill="none" stroke="#00FF00" stroke-width="1"/>
<polygon points="500.2,957 506.3,963.4 500.2,969.8 494.1,963.4" fill="#00FF00"/>
<polygon points="500.5,943.1 506.6,949.5 500.5,955.9 494.4,949.5" fill="#00FF00"/>
<polygon points="500.5,929.9 506.6,936.3 500.5,942.7 494.4,936.3" fill="#00FF00"/>
<polygon points="500.5,915.9 506.6,922.3 500.5,928.7 494.4,922.3" fill="#00FF00"/>
<polygon points="500.5,901.2 506.6,907.6 500.5,914 494.4,907.6" fill="#00FF00"/>
<polygon points="500.5,885.7 506.6,892.1 500.5,898.5 494.4,892.1" fill="#00FF00"/>
<polygon points="500.5,871 506.6,877.4 500.5,883.8 494.4,877.4" fill="#00FF00"/>
<polygon points="501.3,858.6 507.4,865 501.3,871.4 495.2,865" fill="#00FF00"/>
<polygon points="501.7,838.4 507.8,844.8 501.7,851.2 495.6,844.8" fill="#00FF00"/>
<polygon points="502.8,829.1 508.9,835.5 502.8,841.9 496.7,835.5" fill="#00FF00"/>
<polygon points="505.9,813.7 512,820.1 505.9,826.5 499.8,820.1" fill="#00FF00"/>
<polygon points="510.5,797.9 516.6,804.3 510.5,810.7 504.4,804.3" fill="#00FF00"/>
<polygon points="517.9,778.7 524,785.1 517.9,791.5 511.8,785.1" fill="#00FF00"/>
<polygon points="529.2,758.4 535.3,764.8 529.2,771.2 523.1,764.8" fill="#00FF00"/>
<polygon points="548,734.8 554.1,741.2 548,747.6 541.9,741.2" fill="#00FF00"/>
<polygon points="587.5,705.4 593.6,711.8 587.5,718.2 581.4,711.8" fill="#00FF00"/>
<polygon points="644.6,673.5 650.7,679.9 644.6,686.3 638.5,679.9" fill="#00FF00"/>
<polygon points="713.3,641.2 719.4,647.6 713.3,654 707.2,647.6" fill="#00FF00"/>
<polygon points="750,632.4 756.1,638.8 750,645.2 743.9,638.8" fill="#00FF00"/>
<line x1="588" y1="56.5" x2="651" y2="56.5" stroke="#000000" stroke-width="1"/>
<rect x="615.1" y="52.2" width="8.6" height="8.6" fill="#000000"/>
<text x="657.6" y="65.7" class="s" font-size="29">α=0°</text>
<line x1="588" y1="92.35" x2="651" y2="92.35" stroke="#FF0000" stroke-width="1"/>
<circle cx="619.4" cy="92.35" r="5.1" fill="#FF0000"/>
<text x="657.6" y="101.55" class="s" font-size="29">α=15°</text>
<line x1="588" y1="128.2" x2="651" y2="128.2" stroke="#0000FF" stroke-width="1"/>
<polygon points="619.4,122.9 625.4,133.5 613.4,133.5" fill="#0000FF"/>
<text x="657.6" y="137.4" class="s" font-size="29">α=30°</text>
<line x1="588" y1="164.05" x2="651" y2="164.05" stroke="#008080" stroke-width="1"/>
<polygon points="619.4,169.35 625.4,158.75 613.4,158.75" fill="#008080"/>
<text x="657.6" y="173.25" class="s" font-size="29">α=45°</text>
<line x1="588" y1="199.9" x2="651" y2="199.9" stroke="#FF00FF" stroke-width="1"/>
<polygon points="614.1,199.9 624.7,193.9 624.7,205.9" fill="#FF00FF"/>
<text x="657.6" y="209.1" class="s" font-size="29">α=60°</text>
<line x1="588" y1="235.75" x2="651" y2="235.75" stroke="#808000" stroke-width="1"/>
<polygon points="624.7,235.75 614.1,229.75 614.1,241.75" fill="#808000"/>
<text x="657.6" y="244.95" class="s" font-size="29">α=75°</text>
<line x1="588" y1="271.6" x2="651" y2="271.6" stroke="#00FF00" stroke-width="1"/>
<polygon points="619.4,265.2 625.5,271.6 619.4,278 613.3,271.6" fill="#00FF00"/>
<text x="657.6" y="280.8" class="s" font-size="29">α=90°</text>
<line x1="1353" y1="74.2" x2="1414" y2="74.2" stroke="#000000" stroke-width="1"/>
<rect x="1379.2" y="69.9" width="8.6" height="8.6" fill="#000000"/>
<text x="1420" y="83.3" class="s" font-size="28">α=0°</text>
<line x1="1353" y1="108.55" x2="1414" y2="108.55" stroke="#FF0000" stroke-width="1"/>
<circle cx="1383.5" cy="108.55" r="5.1" fill="#FF0000"/>
<text x="1420" y="117.65" class="s" font-size="28">α=15°</text>
<line x1="1353" y1="142.9" x2="1414" y2="142.9" stroke="#0000FF" stroke-width="1"/>
<polygon points="1383.5,137.6 1389.5,148.2 1377.5,148.2" fill="#0000FF"/>
<text x="1420" y="152" class="s" font-size="28">α=30°</text>
<line x1="1353" y1="177.25" x2="1414" y2="177.25" stroke="#008080" stroke-width="1"/>
<polygon points="1383.5,182.55 1389.5,171.95 1377.5,171.95" fill="#008080"/>
<text x="1420" y="186.35" class="s" font-size="28">α=45°</text>
<line x1="1353" y1="211.6" x2="1414" y2="211.6" stroke="#FF00FF" stroke-width="1"/>
<polygon points="1378.2,211.6 1388.8,205.6 1388.8,217.6" fill="#FF00FF"/>
<text x="1420" y="220.7" class="s" font-size="28">α=60°</text>
<line x1="1353" y1="245.95" x2="1414" y2="245.95" stroke="#808000" stroke-width="1"/>
<polygon points="1388.8,245.95 1378.2,239.95 1378.2,251.95" fill="#808000"/>
<text x="1420" y="255.05" class="s" font-size="28">α=75°</text>
<line x1="1353" y1="280.3" x2="1414" y2="280.3" stroke="#00FF00" stroke-width="1"/>
<polygon points="1383.5,273.9 1389.6,280.3 1383.5,286.7 1377.4,280.3" fill="#00FF00"/>
<text x="1420" y="289.4" class="s" font-size="28">α=90°</text>
<line x1="956.2" y1="648.2" x2="1016.8" y2="648.2" stroke="#000000" stroke-width="1"/>
<rect x="982.1" y="643.9" width="8.6" height="8.6" fill="#000000"/>
<text x="1023.3" y="657.3" class="s" font-size="28">α=0°</text>
<line x1="956.2" y1="682.5" x2="1016.8" y2="682.5" stroke="#FF0000" stroke-width="1"/>
<circle cx="986.4" cy="682.5" r="5.1" fill="#FF0000"/>
<text x="1023.3" y="691.6" class="s" font-size="28">α=15°</text>
<line x1="956.2" y1="716.8" x2="1016.8" y2="716.8" stroke="#0000FF" stroke-width="1"/>
<polygon points="986.4,711.5 992.4,722.1 980.4,722.1" fill="#0000FF"/>
<text x="1023.3" y="725.9" class="s" font-size="28">α=30°</text>
<line x1="956.2" y1="751.1" x2="1016.8" y2="751.1" stroke="#008080" stroke-width="1"/>
<polygon points="986.4,756.4 992.4,745.8 980.4,745.8" fill="#008080"/>
<text x="1023.3" y="760.2" class="s" font-size="28">α=45°</text>
<line x1="956.2" y1="785.4" x2="1016.8" y2="785.4" stroke="#FF00FF" stroke-width="1"/>
<polygon points="981.1,785.4 991.7,779.4 991.7,791.4" fill="#FF00FF"/>
<text x="1023.3" y="794.5" class="s" font-size="28">α=60°</text>
<line x1="956.2" y1="819.7" x2="1016.8" y2="819.7" stroke="#808000" stroke-width="1"/>
<polygon points="991.7,819.7 981.1,813.7 981.1,825.7" fill="#808000"/>
<text x="1023.3" y="828.8" class="s" font-size="28">α=75°</text>
<line x1="956.2" y1="854" x2="1016.8" y2="854" stroke="#00FF00" stroke-width="1"/>
<polygon points="986.4,847.6 992.5,854 986.4,860.4 980.3,854" fill="#00FF00"/>
<text x="1023.3" y="863.1" class="s" font-size="28">α=90°</text>
<text x="-1.5" y="29.8" class="L" style="font-size:45px">A</text>
<text x="792.3" y="29.7" class="L">B</text>
<text x="397.2" y="601.6" class="L">C</text>
<text x="0" y="0" transform="translate(29.6,247) rotate(-90)" class="q" font-size="33.5">q/p′</text>
<text x="0" y="0" transform="translate(809.6,257.3) rotate(-90)" class="q" font-size="32.4">q/p′</text>
<text x="0" y="0" transform="translate(419.4,831.5) rotate(-90)" class="q" font-size="32.2">q/p′</text>
<text transform="translate(348.6,470.4) scale(0.915,1)" class="s" font-size="33.5">γ/%</text>
<text transform="translate(1116.4,470.6) scale(0.907,1)" class="s" font-size="32.5">γ/%</text>
<text transform="translate(726.2,1044.6) scale(0.94,1)" class="s" font-size="31.5">γ/%</text>
<line x1="761.3" y1="601.4" x2="767.2" y2="601.4" stroke="#222" stroke-width="1.1"/>
<line x1="794.9" y1="601.4" x2="802.9" y2="601.4" stroke="#999" stroke-width="1"/>
</svg>
</body></html>
